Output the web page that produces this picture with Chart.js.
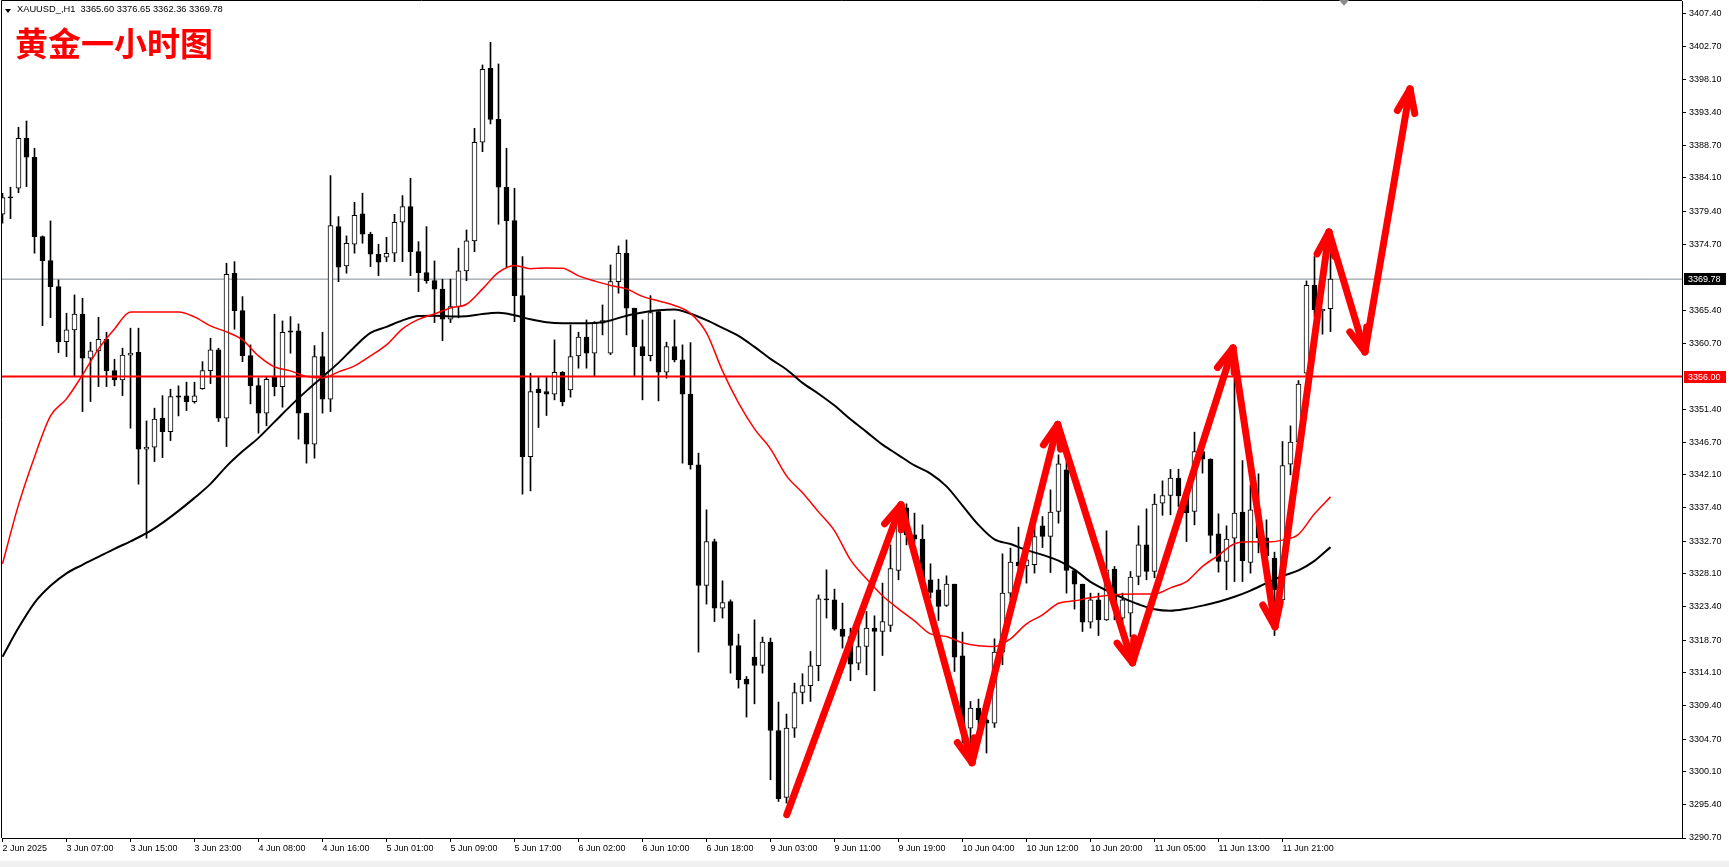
<!DOCTYPE html>
<html>
<head>
<meta charset="utf-8">
<script src="https://cdn.jsdelivr.net/npm/chart.js@4.4.1/dist/chart.umd.min.js"></script>
<style>
html,body{margin:0;padding:0;background:#fff;overflow:hidden;}
#wrap{position:relative;width:1729px;height:867px;background:#fff;}
#c{position:absolute;left:0;top:0;}
#tri{position:absolute;left:5px;top:9px;width:0;height:0;border-left:3px solid transparent;border-right:3px solid transparent;border-top:4px solid #000;}
#hdr{position:absolute;left:17px;top:4px;font-family:'Liberation Sans',Arial,sans-serif;font-size:9.3px;line-height:11px;color:#000;white-space:pre;}
#cn{position:absolute;left:15px;top:26px;font-family:'Noto Sans CJK SC',sans-serif;font-weight:bold;font-size:33px;line-height:33px;color:#ff0000;white-space:nowrap;}
#shift{position:absolute;left:1339px;top:0;width:0;height:0;border-left:5px solid transparent;border-right:5px solid transparent;border-top:6px solid #8c8c8c;}
#foot{position:absolute;left:0;top:861px;width:1729px;height:6px;background:#f0f0f0;}
</style>
</head>
<body>
<div id="wrap">
<canvas id="c" width="1729" height="867" style="width:1729px;height:867px"></canvas>
<div id="tri"></div>
<div id="hdr"></div>
<div id="cn">黄金一小时图</div>
<div id="shift"></div>
<div id="foot"></div>
</div>
<script>
// ---------------- data ----------------
const symbol = "XAUUSD_";
const timeframe = "H1";
const chartTitle = "黄金一小时图";

const opens = [3378.96,3381.37,3382.64,3389.72,3387.03,3375.80,3372.40,3368.72,3360.94,3362.60,
3364.82,3358.59,3359.63,3361.28,3356.84,3355.53,3359.02,3359.44,3345.72,3346.01,
3350.11,3348.21,3353.26,3353.26,3352.46,3354.29,3356.84,3359.77,3350.11,3370.62,
3365.33,3358.96,3354.72,3350.82,3355.91,3354.58,3362.46,3362.46,3350.82,3346.43,
3358.82,3352.80,3377.21,3371.65,3374.72,3379.01,3376.14,3373.31,3372.88,3373.45,
3377.83,3380.04,3373.67,3370.70,3369.57,3368.36,3364.11,3365.89,3370.94,3375.19,
3389.15,3399.62,3392.40,3382.79,3378.06,3367.45,3344.67,3354.21,3353.87,3353.50,
3356.61,3354.11,3358.92,3361.57,3359.30,3363.55,3359.30,3369.43,3373.45,3365.67,
3360.24,3358.96,3365.19,3356.61,3360.24,3358.35,3353.50,3343.50,3326.43,3332.65,
3323.23,3324.16,3317.94,3313.19,3316.30,3315.11,3318.42,3305.91,3296.44,3306.25,
3311.29,3312.24,3315.07,3324.55,3324.40,3320.26,3319.21,3315.45,3317.80,3320.40,
3319.92,3320.77,3328.55,3337.42,3333.60,3332.99,3327.23,3325.82,3323.60,3326.62,
3316.48,3306.25,3309.08,3307.43,3306.96,3317.01,3325.35,3329.74,3329.21,3329.36,
3334.87,3333.36,3336.90,3342.79,3328.55,3326.62,3321.25,3324.40,3321.57,3328.75,
3321.82,3322.52,3327.70,3332.18,3328.41,3338.08,3339.16,3341.62,3339.12,3336.90,
3345.38,3344.31,3333.74,3329.82,3333.13,3336.81,3329.68,3337.28,3333.17,3330.30,
3324.40,3343.60,3346.80,3356.47,3368.92,3365.29,3365.60];

const highs = [3381.94,3382.79,3391.27,3392.16,3388.30,3375.90,3378.02,3369.67,3364.96,3367.55,
3367.08,3360.86,3364.39,3362.27,3358.45,3360.01,3362.84,3362.84,3349.72,3351.52,
3353.30,3354.21,3354.68,3355.20,3355.20,3358.11,3361.42,3360.01,3372.03,3372.26,
3367.31,3360.48,3355.81,3355.99,3364.82,3363.87,3364.48,3363.45,3350.82,3360.38,
3362.27,3384.43,3378.63,3375.90,3380.66,3381.94,3376.42,3374.72,3375.71,3378.96,
3381.60,3384.06,3375.09,3377.21,3372.36,3369.77,3369.77,3374.16,3376.74,3391.13,
3400.09,3403.30,3400.23,3388.30,3382.64,3372.97,3356.47,3355.85,3355.85,3361.18,
3356.70,3363.31,3362.27,3364.01,3363.77,3366.13,3371.79,3374.48,3375.33,3365.67,
3364.01,3367.45,3365.19,3360.86,3364.01,3360.48,3360.80,3345.16,3337.14,3332.99,
3327.09,3324.40,3319.55,3313.55,3321.57,3319.13,3318.99,3309.93,3308.24,3312.62,
3313.94,3317.09,3325.11,3328.65,3325.92,3323.94,3320.40,3320.63,3322.75,3322.14,
3326.77,3332.18,3337.84,3337.98,3336.67,3335.01,3329.50,3327.33,3327.80,3326.62,
3319.83,3310.02,3310.36,3307.67,3318.89,3330.91,3331.72,3334.69,3332.99,3335.72,
3336.19,3339.96,3344.92,3343.92,3328.65,3326.62,3325.35,3325.35,3334.17,3329.12,
3325.35,3328.41,3334.87,3337.28,3339.36,3341.24,3342.86,3342.89,3339.50,3348.13,
3345.62,3344.35,3336.57,3334.87,3360.24,3344.11,3340.67,3342.23,3335.72,3331.15,
3346.80,3349.02,3355.43,3369.53,3372.97,3365.53,3376.65];

const lows = [3377.69,3378.34,3382.02,3382.87,3373.45,3363.21,3364.34,3359.39,3358.82,3355.99,
3351.04,3352.46,3354.58,3354.58,3354.68,3353.30,3348.69,3340.77,3333.13,3343.97,
3344.53,3346.94,3350.43,3351.18,3352.23,3354.20,3355.00,3349.63,3346.09,3362.70,
3358.11,3352.13,3347.98,3349.02,3353.26,3351.66,3359.30,3347.14,3343.74,3344.45,
3350.82,3351.04,3369.43,3370.62,3373.45,3374.86,3371.55,3370.28,3372.26,3372.26,
3372.26,3370.28,3368.02,3369.20,3363.63,3361.08,3363.63,3364.30,3369.57,3373.67,
3387.82,3391.74,3377.55,3371.55,3363.77,3339.36,3339.82,3348.78,3350.48,3352.70,
3351.85,3353.08,3357.18,3357.18,3355.99,3361.89,3359.10,3367.79,3361.89,3355.99,
3352.70,3358.21,3352.55,3355.77,3358.07,3343.74,3342.89,3317.01,3323.80,3321.33,
3321.82,3314.03,3311.91,3307.81,3309.69,3314.03,3298.94,3295.87,3295.64,3304.93,
3309.69,3310.02,3312.95,3321.82,3320.10,3317.57,3312.95,3314.50,3313.79,3311.53,
3316.52,3319.92,3327.23,3332.18,3332.51,3326.29,3324.64,3321.48,3323.46,3314.26,
3304.13,3304.13,3306.01,3302.72,3306.34,3315.21,3324.40,3326.77,3326.77,3328.18,
3331.80,3328.27,3335.25,3325.35,3323.09,3319.92,3320.40,3319.35,3321.48,3321.57,
3320.63,3319.21,3326.53,3327.23,3327.52,3336.36,3336.43,3337.60,3332.65,3335.01,
3342.33,3331.01,3328.32,3325.82,3326.99,3326.99,3328.18,3331.05,3328.93,3319.35,
3324.20,3342.09,3346.33,3356.09,3364.48,3361.99,3362.36];

const closes = [3381.31,3381.27,3389.72,3387.03,3375.80,3372.40,3368.72,3360.94,3362.60,3364.82,
3358.59,3359.63,3361.28,3356.84,3355.53,3359.02,3359.30,3345.72,3346.01,3349.97,
3348.21,3353.16,3353.08,3352.46,3353.26,3356.84,3359.77,3350.11,3370.48,3365.33,
3358.96,3354.72,3350.82,3355.62,3354.58,3362.27,3362.27,3350.82,3346.43,3358.82,
3352.80,3377.35,3371.47,3374.86,3378.82,3376.14,3373.31,3372.18,3373.45,3377.83,
3380.04,3373.67,3370.70,3369.57,3368.36,3364.11,3365.89,3370.94,3375.19,3389.15,
3399.48,3392.40,3382.79,3378.06,3367.45,3344.67,3353.87,3353.73,3353.50,3356.61,
3352.46,3358.82,3361.57,3359.30,3363.55,3363.91,3369.43,3373.45,3365.67,3360.24,
3358.96,3365.05,3356.61,3360.24,3358.35,3353.50,3343.50,3326.43,3332.65,3323.23,
3324.02,3317.94,3313.09,3312.48,3315.11,3318.42,3305.91,3296.25,3306.25,3311.29,
3312.28,3315.07,3324.55,3324.40,3320.26,3319.21,3315.31,3317.80,3320.40,3319.92,
3321.33,3328.83,3336.67,3333.60,3332.99,3327.23,3325.44,3323.46,3326.62,3316.30,
3306.48,3309.08,3307.43,3306.96,3317.01,3325.35,3329.74,3329.21,3330.06,3333.36,
3333.36,3336.81,3343.64,3328.55,3326.62,3321.25,3324.40,3321.57,3328.65,3323.94,
3324.40,3327.62,3332.18,3328.41,3337.94,3339.16,3341.62,3339.12,3336.75,3345.38,
3344.31,3333.50,3329.82,3332.99,3336.67,3329.96,3337.14,3333.17,3330.63,3325.82,
3343.40,3346.71,3354.92,3368.92,3365.43,3365.53,3369.78];

// moving averages, read at every second bar
const maBars = [0,2,4,6,8,10,12,14,16,18,20,22,24,26,28,30,32,34,36,38,40,42,44,46,48,50,52,54,56,58,
60,62,64,66,68,70,72,74,76,78,80,82,84,86,88,90,92,94,96,98,100,102,104,106,108,110,112,114,116,118,
120,122,124,126,128,130,132,134,136,138,140,142,144,146,148,150,152,154,156,158,160,162,164,166];

const maFastRed = [3329.50,3337.84,3344.63,3350.43,3352.84,3356.23,3359.91,3362.74,3365.14,3365.14,
3365.14,3365.14,3364.44,3363.16,3362.32,3361.18,3358.92,3357.36,3356.80,3356.02,
3355.81,3356.66,3357.51,3358.92,3360.48,3362.74,3364.08,3364.86,3365.71,3366.23,
3368.40,3370.73,3371.72,3371.26,3371.37,3371.33,3370.24,3369.53,3368.89,3368.40,
3367.34,3366.70,3366.06,3364.93,3362.17,3356.80,3352.27,3348.59,3345.76,3341.94,
3339.54,3336.85,3334.17,3330.06,3327.37,3324.97,3323.13,3321.43,3319.59,3319.21,
3318.32,3317.90,3317.80,3318.89,3321.01,3322.28,3323.91,3324.26,3324.69,3325.01,
3325.18,3325.21,3325.21,3326.10,3326.99,3329.14,3330.70,3332.33,3332.61,3332.57,
3332.85,3333.67,3336.57,3338.97];

const maSlowBlack = [3316.34,3320.44,3323.98,3326.38,3328.15,3329.36,3330.49,3331.62,3332.68,3333.83,
3335.30,3336.99,3338.83,3340.81,3343.29,3345.41,3347.32,3349.58,3351.85,3353.97,
3355.95,3357.93,3360.19,3362.17,3363.02,3363.94,3364.55,3364.59,3364.51,3364.54,
3364.86,3365.02,3364.68,3364.10,3363.69,3363.55,3363.55,3363.59,3363.94,3364.61,
3365.07,3365.37,3365.48,3364.89,3363.97,3362.88,3361.75,3360.19,3358.50,3357.00,
3355.10,3353.57,3351.90,3349.95,3348.17,3346.37,3344.89,3343.42,3342.27,3340.46,
3337.74,3335.01,3332.95,3332.30,3331.43,3330.77,3329.95,3328.68,3326.95,3325.73,
3324.69,3323.77,3323.06,3322.85,3323.13,3323.58,3324.12,3324.83,3325.71,3326.77,
3327.77,3328.58,3329.92,3331.86];

// hand-drawn forecast arrows (bar position, price)
const arrowBars   = [98.03, 112.31, 121.19, 131.90, 141.25, 153.81, 159.06, 165.81, 170.31, 175.94];
const arrowPrices = [3293.99, 3337.84, 3301.35, 3349.23, 3315.49, 3360.05, 3320.58, 3376.46, 3359.49, 3396.69];

const levelLine = 3356.00;          // red horizontal line
const bidPrice  = 3369.78;          // current price line

const yTickValues = [3290.70,3295.40,3300.10,3304.70,3309.40,3314.10,3318.70,3323.40,3328.10,3332.70,
3337.40,3342.10,3346.70,3351.40,3360.70,3365.40,3374.70,3379.40,3384.10,3388.70,3393.40,3398.10,3402.70,3407.40];

const xTickBars = [0,8,16,24,32,40,48,56,64,72,80,88,96,104,112,120,128,136,144,152,160];
const xTickLabels = ["2 Jun 2025","3 Jun 07:00","3 Jun 15:00","3 Jun 23:00","4 Jun 08:00","4 Jun 16:00",
"5 Jun 01:00","5 Jun 09:00","5 Jun 17:00","6 Jun 02:00","6 Jun 10:00","6 Jun 18:00","9 Jun 03:00",
"9 Jun 11:00","9 Jun 19:00","10 Jun 04:00","10 Jun 12:00","10 Jun 20:00","11 Jun 05:00","11 Jun 13:00","11 Jun 21:00"];

// ---------------- view ----------------
const X_MIN = -0.0625, X_MAX = 209.9375;
const Y_MIN = 3290.70, Y_MAX = 3409.14;
const FONT = "'Liberation Sans', Arial, sans-serif";

const last = closes.length - 1;
document.getElementById('hdr').textContent =
  symbol + "," + timeframe + "  " + opens[last].toFixed(2) + " " + highs[last].toFixed(2) + " " +
  lows[last].toFixed(2) + " " + closes[last].toFixed(2);
document.getElementById('cn').textContent = chartTitle;

Chart.defaults.font.family = FONT;
Chart.defaults.font.size = 9;
Chart.defaults.color = '#000';

const wickData = opens.map((o, i) => ({x: i, y: [lows[i], highs[i]]}));
const bodyData = opens.map((o, i) => ({x: i, y: [o, closes[i]]}));
const redMA = maBars.map((b, i) => ({x: b, y: maFastRed[i]}));
const blackMA = maBars.map((b, i) => ({x: b, y: maSlowBlack[i]}));
const arrowPts = arrowBars.map((b, i) => ({x: b, y: arrowPrices[i]}));

const ARROW_DS = 0;

const arrowHeads = {
  id: 'arrowHeads',
  afterDatasetsDraw(chart) {
    const pts = chart.getDatasetMeta(ARROW_DS).data;
    const ctx = chart.ctx, a = chart.chartArea;
    ctx.save();
    ctx.beginPath(); ctx.rect(a.left, a.top, a.right - a.left, a.bottom - a.top); ctx.clip();
    ctx.strokeStyle = '#ff0000'; ctx.lineWidth = 7; ctx.lineCap = 'round';
    const L = 25, half = 0.36;
    for (let i = 1; i < pts.length; i++) {
      const p = pts[i - 1], q = pts[i];
      const ang = Math.atan2(q.y - p.y, q.x - p.x) + Math.PI;
      for (const s of [-1, 1]) {
        const t = ang + s * half;
        ctx.beginPath();
        ctx.moveTo(q.x, q.y);
        ctx.lineTo(q.x + L * Math.cos(t), q.y + L * Math.sin(t));
        ctx.stroke();
      }
    }
    ctx.restore();
  }
};

const frameAndBoxes = {
  id: 'frameAndBoxes',
  afterDraw(chart) {
    const ctx = chart.ctx, a = chart.chartArea, ys = chart.scales.y;
    ctx.save();
    ctx.strokeStyle = '#000'; ctx.lineWidth = 1;
    ctx.beginPath();
    ctx.moveTo(Math.round(a.left) - 0.5, Math.round(a.bottom));
    ctx.lineTo(Math.round(a.left) - 0.5, Math.round(a.top) - 0.5);
    ctx.lineTo(Math.round(a.right), Math.round(a.top) - 0.5);
    ctx.stroke();
    const boxes = [[bidPrice, '#000000'], [levelLine, '#ff0000']];
    ctx.font = '9px ' + FONT;
    ctx.textBaseline = 'middle'; ctx.textAlign = 'left';
    for (const [v, col] of boxes) {
      const y = Math.round(ys.getPixelForValue(v));
      ctx.fillStyle = col;
      ctx.fillRect(a.right + 2, y - 6, 42, 12);
      ctx.fillStyle = '#fff';
      ctx.fillText(v.toFixed(2), a.right + 6, y + 0.5);
    }
    ctx.restore();
  }
};

new Chart(document.getElementById('c'), {
  type: 'bar',
  data: {
    datasets: [
      { type: 'line', label: 'arrows', data: arrowPts, borderColor: '#ff0000', borderWidth: 7,
        pointRadius: 0, tension: 0, borderJoinStyle: 'round', borderCapStyle: 'round', order: 0 },
      { type: 'line', label: 'MA fast', data: redMA, borderColor: '#ff0000', borderWidth: 1.5,
        pointRadius: 0, cubicInterpolationMode: 'monotone', order: 2 },
      { type: 'line', label: 'MA slow', data: blackMA, borderColor: '#000000', borderWidth: 2,
        pointRadius: 0, cubicInterpolationMode: 'monotone', order: 2 },
      { type: 'line', label: 'level', data: [{x: X_MIN, y: levelLine}, {x: X_MAX, y: levelLine}],
        borderColor: '#ff0000', borderWidth: 2, pointRadius: 0, order: 3 },
      { type: 'line', label: 'bid', data: [{x: X_MIN, y: bidPrice}, {x: X_MAX, y: bidPrice}],
        borderColor: '#828a92', borderWidth: 1, pointRadius: 0, order: 6 },
      { type: 'bar', label: 'body', data: bodyData, barThickness: 5, grouped: false,
        backgroundColor: (c) => (closes[c.dataIndex] >= opens[c.dataIndex] ? '#ffffff' : '#000000'),
        borderColor: '#000000', borderWidth: 1, borderSkipped: false, minBarLength: 1, order: 4 },
      { type: 'bar', label: 'wick', data: wickData, barThickness: 1, grouped: false,
        backgroundColor: '#000000', borderWidth: 0, order: 5 }
    ]
  },
  options: {
    responsive: false, animation: false, devicePixelRatio: 1,
    layout: { padding: { left: 2, top: 1, right: 0, bottom: 0 } },
    plugins: { legend: { display: false }, tooltip: { enabled: false } },
    scales: {
      x: {
        type: 'linear', min: X_MIN, max: X_MAX, offset: false,
        afterBuildTicks: (s) => { s.ticks = xTickBars.map(v => ({ value: v })); },
        afterFit: (s) => { s.height = 29; s.paddingLeft = 0; s.paddingRight = 0; s.paddingTop = 0; s.paddingBottom = 0; },
        grid: { drawOnChartArea: false, offset: false, tickLength: 4, color: '#000' },
        border: { color: '#000', width: 1 },
        ticks: {
          autoSkip: false, maxRotation: 0, minRotation: 0, align: 'start', padding: 1,
          font: { size: 9, family: FONT }, color: '#000',
          callback: (v) => { const k = xTickBars.indexOf(v); return k >= 0 ? xTickLabels[k] : ''; }
        }
      },
      y: {
        type: 'linear', position: 'right', min: Y_MIN, max: Y_MAX,
        afterBuildTicks: (s) => { s.ticks = yTickValues.map(v => ({ value: v })); },
        afterFit: (s) => { s.width = 47; s.paddingTop = 0; s.paddingBottom = 0; s.paddingLeft = 0; s.paddingRight = 0; },
        grid: { drawOnChartArea: false, tickLength: 4, color: '#000' },
        border: { color: '#000', width: 1 },
        ticks: { padding: 3, font: { size: 9, family: FONT }, color: '#000',
          callback: (v) => Number(v).toFixed(2) }
      }
    }
  },
  plugins: [arrowHeads, frameAndBoxes]
});
</script>
</body>
</html>
